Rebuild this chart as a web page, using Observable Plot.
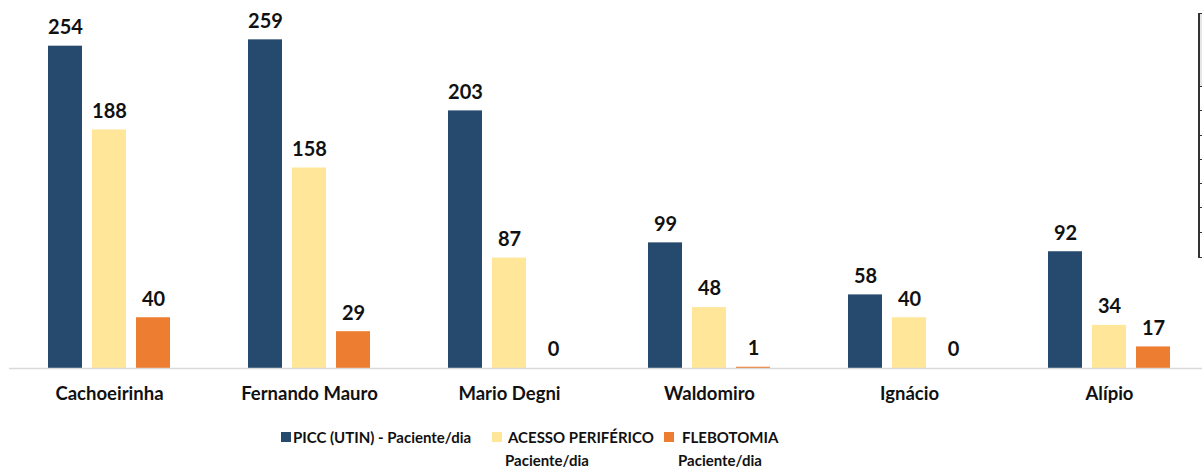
<!DOCTYPE html>
<html>
<head>
<meta charset="utf-8">
<script src="https://cdn.jsdelivr.net/npm/d3@7"></script>
<script src="https://cdn.jsdelivr.net/npm/@observablehq/plot@0.6"></script>
<style>
  html, body { margin: 0; padding: 0; background: #fff; overflow: hidden; width: 1202px; height: 470px; }
  #wrap { position: relative; width: 1202px; height: 470px; overflow: hidden; font-family: Lato, "Open Sans", sans-serif; }
  #chart { position: absolute; left: 0; top: 0; width: 1211px; }
  #chart svg { max-width: none !important; }
  .leg { position: absolute; font-weight: bold; font-size: 15px; color: #111; line-height: 22px; white-space: nowrap; }
  .sw { position: absolute; width: 10px; height: 10px; }
  #tbl { position: absolute; left: 1198px; top: 13px; width: 10px; height: 243px; border-left: 2px solid #333; border-top: 1px solid #333; border-bottom: 1px solid #333; }
  #tblshade { position: absolute; left: 1200px; top: 14px; width: 10px; height: 72px; background: #e6e6e6; }
  .tk { position: absolute; left: 1200px; width: 4px; height: 0; border-top: 1px solid #333; }
</style>
</head>
<body>
<div id="wrap">
  <div id="chart"></div>
  <div id="tblshade"></div>
  <div id="tbl"></div>
  <div class="tk" style="top:86px"></div>
  <div class="tk" style="top:110px"></div>
  <div class="tk" style="top:135px"></div>
  <div class="tk" style="top:159px"></div>
  <div class="tk" style="top:183px"></div>
  <div class="tk" style="top:207px"></div>
  <div class="tk" style="top:232px"></div>
  <div id="legend"></div>
</div>
<script>
const categories = ["Cachoeirinha", "Fernando Mauro", "Mario Degni", "Waldomiro", "Ignácio", "Alípio"];
const seriesNames = ["PICC (UTIN) - Paciente/dia", "ACESSO PERIFÉRICO Paciente/dia", "FLEBOTOMIA Paciente/dia"];
const picc = [254, 259, 203, 99, 58, 92];
const acesso = [188, 158, 87, 48, 40, 34];
const flebotomia = [40, 29, 0, 1, 0, 17];
const colors = ["#264A6E", "#FFE699", "#ED7D31"];

const seriesValues = [picc, acesso, flebotomia];
const data = [];
categories.forEach((c, i) => {
  seriesNames.forEach((s, j) => {
    data.push({cat: c, series: s, value: seriesValues[j][i]});
  });
});

const chart = Plot.plot({
  width: 1211,
  height: 410,
  marginLeft: 7,
  marginRight: 0,
  marginTop: 0,
  marginBottom: 42,
  style: {fontFamily: "Lato, 'Open Sans', sans-serif", background: "transparent", overflow: "visible", maxWidth: "none"},
  fx: {domain: categories, padding: 0, label: null},
  x: {domain: seriesNames, paddingInner: 0.222, paddingOuter: 0.84, axis: null},
  y: {domain: [0, 290], axis: null},
  color: {domain: seriesNames, range: colors},
  marks: [
    Plot.barY(data, {fx: "cat", x: "series", y: "value", fill: "series"}),
    Plot.ruleY([0], {stroke: "#d9d9d9", strokeWidth: 1.5}),
    Plot.text(data, {fx: "cat", x: "series", y: "value", text: d => String(d.value), dy: -18.5, lineAnchor: "middle", fontSize: 20, fontWeight: "bold", fill: "#111"}),
    Plot.axisFx({anchor: "bottom", tickSize: 0, tickPadding: 18, fontSize: 18.5, fontWeight: "bold", label: null, fill: "#111"})
  ]
});
document.getElementById("chart").appendChild(chart);

const legend = document.getElementById("legend");
const items = [
  {sw: [281, 432], lines: [["PICC (UTIN) - Paciente/dia", 293, 426]]},
  {sw: [492, 432], lines: [["ACESSO PERIFÉRICO", 508, 426], ["Paciente/dia", 505, 449]]},
  {sw: [664, 432], lines: [["FLEBOTOMIA", 682, 426], ["Paciente/dia", 678, 449]]}
];
items.forEach((it, i) => {
  const sw = document.createElement("div");
  sw.className = "sw";
  sw.style.left = it.sw[0] + "px";
  sw.style.top = it.sw[1] + "px";
  sw.style.background = colors[i];
  legend.appendChild(sw);
  it.lines.forEach(([t, x, y]) => {
    const d = document.createElement("div");
    d.className = "leg";
    d.style.left = x + "px";
    d.style.top = y + "px";
    d.textContent = t;
    legend.appendChild(d);
  });
});
</script>
</body>
</html>
